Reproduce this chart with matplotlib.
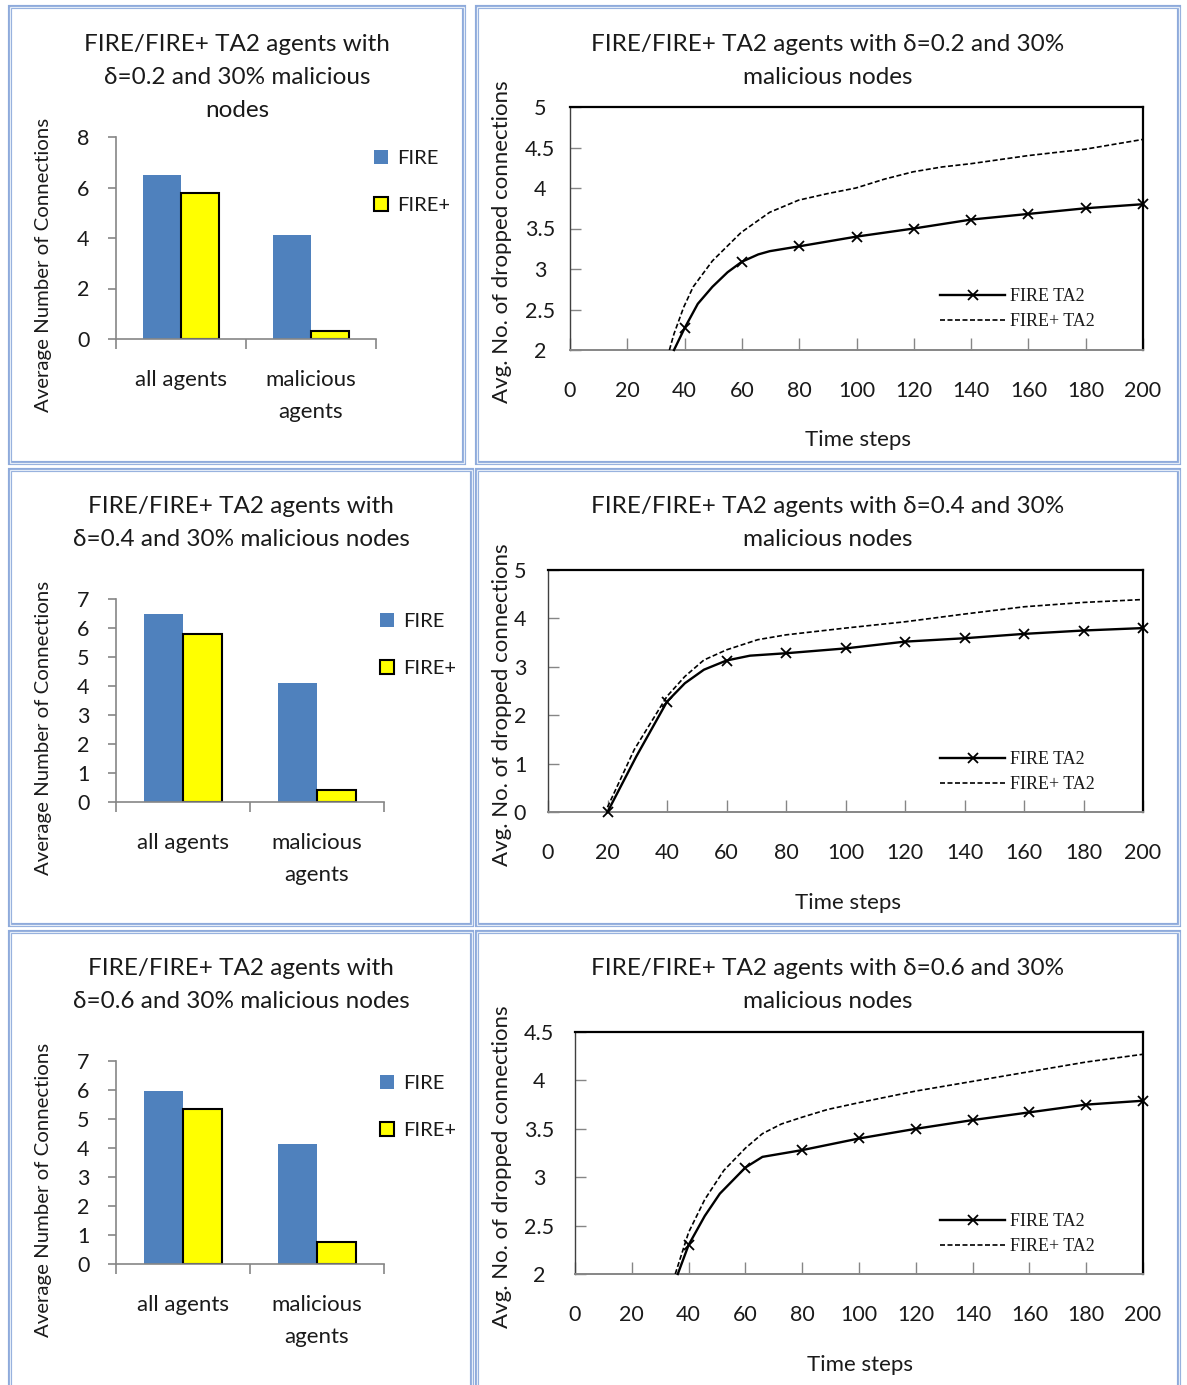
import matplotlib
matplotlib.use("Agg")
import matplotlib.pyplot as plt
from matplotlib.patches import Rectangle
from matplotlib.lines import Line2D
from matplotlib.ticker import FuncFormatter

W, H = 1187, 1385
FONT = ['Lato', 'DejaVu Sans']
plt.rcParams['font.family'] = FONT

# ---------------- data ----------------
categories = ["all agents", "malicious\nagents"]
bar_titles = [
    "FIRE/FIRE+ TA2 agents with\nδ=0.2 and 30% malicious\nnodes",
    "FIRE/FIRE+ TA2 agents with\nδ=0.4 and 30% malicious nodes",
    "FIRE/FIRE+ TA2 agents with\nδ=0.6 and 30% malicious nodes",
]
fire_d02 = [6.5, 4.1]
fireplus_d02 = [5.8, 0.3]
fire_d04 = [6.5, 4.1]
fireplus_d04 = [5.8, 0.4]
fire_d06 = [5.95, 4.15]
fireplus_d06 = [5.35, 0.75]
bar_ymax = [8, 7, 7]
bar_ystep = [2, 1, 1]

line_titles = [
    "FIRE/FIRE+ TA2 agents with δ=0.2 and 30%\nmalicious nodes",
    "FIRE/FIRE+ TA2 agents with δ=0.4 and 30%\nmalicious nodes",
    "FIRE/FIRE+ TA2 agents with δ=0.6 and 30%\nmalicious nodes",
]
marker_steps = [20, 40, 60, 80, 100, 120, 140, 160, 180, 200]

# delta = 0.2
fire_ta2_x_d02 = [36.3, 40, 44.6, 49.7, 55, 60, 65.7, 69.7, 80, 100, 120, 140, 160, 180, 200]
fire_ta2_y_d02 = [2.0, 2.27, 2.57, 2.78, 2.96, 3.09, 3.18, 3.22, 3.28, 3.40, 3.50, 3.61, 3.68, 3.75, 3.80]
fireplus_ta2_x_d02 = [34.7, 36.3, 39.7, 43, 49.7, 59.7, 69.7, 79.8, 89.8, 99.8, 109.8, 119.8, 129.9,
                      139.9, 149.9, 159.9, 169.9, 180, 190, 200]
fireplus_ta2_y_d02 = [2.0, 2.20, 2.53, 2.78, 3.10, 3.45, 3.70, 3.85, 3.93, 4.00, 4.11, 4.20, 4.26,
                      4.30, 4.35, 4.40, 4.44, 4.48, 4.54, 4.60]
# delta = 0.4
fire_ta2_x_d04 = [20, 29.7, 40, 46, 52.4, 60, 67.9, 80, 100, 120, 140, 160, 180, 200]
fire_ta2_y_d04 = [0.0, 1.15, 2.28, 2.66, 2.94, 3.13, 3.23, 3.28, 3.38, 3.52, 3.59, 3.68, 3.75, 3.80]
fireplus_ta2_x_d04 = [20, 29, 40, 46, 52.4, 60, 70.5, 80, 100, 120, 140, 160, 180, 200]
fireplus_ta2_y_d04 = [0.1, 1.29, 2.39, 2.80, 3.14, 3.35, 3.56, 3.66, 3.80, 3.93, 4.09, 4.24, 4.33, 4.39]
# delta = 0.6
fire_ta2_x_d06 = [36.2, 40, 45.7, 51, 60, 66, 80, 100, 120, 140, 160, 180, 200]
fire_ta2_y_d06 = [2.0, 2.30, 2.60, 2.83, 3.10, 3.21, 3.28, 3.40, 3.50, 3.59, 3.67, 3.75, 3.79]
fireplus_ta2_x_d06 = [35.3, 40, 45.7, 52.4, 60, 66, 72.7, 80, 89, 100, 120, 140, 160, 180, 200]
fireplus_ta2_y_d06 = [2.0, 2.43, 2.77, 3.07, 3.30, 3.45, 3.55, 3.62, 3.70, 3.77, 3.89, 3.99, 4.09, 4.19, 4.27]

line_ylims = [(2, 5, 0.5), (0, 5, 1), (2, 4.5, 0.5)]
x_ticks = [0, 20, 40, 60, 80, 100, 120, 140, 160, 180, 200]

BLUE = '#4f81bd'
YELLOW = '#ffff00'
GRAY = '#868686'
BORDER = '#8eaadb'
TXT = '#1a1a1a'
plt.rcParams['text.color'] = TXT
plt.rcParams['xtick.labelcolor'] = TXT
plt.rcParams['ytick.labelcolor'] = TXT

fig = plt.figure(figsize=(W / 100, H / 100), dpi=100)


def fx(x):
    return x / W


def fy(y):
    return 1 - y / H


def add_ax(l, t, r, b):
    return fig.add_axes([fx(l), fy(b), (r - l) / W, (b - t) / H])


def panel(l, t, r, b):
    for lw, c in ((3.0, BORDER), (0.9, '#e4ecf7')):
        fig.patches.append(Rectangle((fx(l), fy(b)), (r - l) / W, (b - t) / H,
                                     transform=fig.transFigure, fill=False,
                                     edgecolor=c, linewidth=lw))


# panels
panel(10, 7, 464, 463)
panel(477, 7, 1179, 463)
panel(10, 470, 472, 925)
panel(477, 470, 1179, 925)
panel(10, 932, 472, 1392)
panel(477, 932, 1179, 1392)

# ---------------- bar charts ----------------
bar_boxes = [(116, 137, 376, 339), (116, 599, 384, 802), (116, 1061, 384, 1264)]
bar_title_y = [43, 505, 967]
bar_title_x = [237, 241, 241]
bar_ylabel_y = [265, 728, 1190]
bar_leg = [(374, 150), (380, 613), (380, 1075)]
fires = [fire_d02, fire_d04, fire_d06]
fireps = [fireplus_d02, fireplus_d04, fireplus_d06]

for i in range(3):
    l, t, r, b = bar_boxes[i]
    ax = add_ax(l, t, r, b)
    w = 0.29
    xs = [0, 1]
    ax.bar([x - w / 2 for x in xs], fires[i], width=w, color=BLUE, label='FIRE', zorder=2)
    ax.bar([x + w / 2 for x in xs], fireps[i], width=w, color=YELLOW, edgecolor='black',
           linewidth=1.5, label='FIRE+', zorder=2)
    ax.set_xlim(-0.5, 1.5)
    ax.set_ylim(0, bar_ymax[i])
    ax.set_yticks(range(0, bar_ymax[i] + 1, bar_ystep[i]))
    ax.set_xticks([-0.5, 0.5, 1.5])
    ax.set_xticklabels([])
    ax.set_xticks(xs, categories, minor=True)
    ax.tick_params(axis='x', which='minor', length=0, pad=22, labelsize=16)
    for lab in ax.get_xticklabels(minor=True):
        lab.set_linespacing(1.75)
        lab.set_verticalalignment('top')
    ax.tick_params(axis='x', which='major', direction='out', length=7, color=GRAY, width=1.2)
    ax.tick_params(axis='y', direction='out', length=6, color=GRAY, width=1.2, pad=13,
                   labelsize=15.5)
    for s in ('top', 'right'):
        ax.spines[s].set_visible(False)
    for s in ('left', 'bottom'):
        ax.spines[s].set_color(GRAY)
        ax.spines[s].set_linewidth(1.2)
    ax.set_facecolor('none')
    lx, ly = bar_leg[i]
    ax.legend(loc='upper left', bbox_to_anchor=(fx(lx), fy(ly)), bbox_transform=fig.transFigure,
              frameon=False, fontsize=14.5, handlelength=0.7, handleheight=0.7,
              handletextpad=0.45, labelspacing=1.5, borderaxespad=0, borderpad=0)
    fig.text(fx(bar_title_x[i]), fy(bar_title_y[i] - 9), bar_titles[i], ha='center', va='top',
             fontsize=17.5, linespacing=1.72)
    fig.text(fx(44), fy(bar_ylabel_y[i]), "Average Number of Connections", rotation=90,
             ha='center', va='center', fontsize=14.7)

# ---------------- line charts ----------------
line_boxes = [(570, 107, 1143, 350), (548, 570, 1143, 812), (575, 1032, 1143, 1274)]
line_title_y = [43, 505, 967]
line_ylabel_y = [242, 705, 1167]
line_ylab_pad = [30, 28, 36]
line_xlabel_y = [440, 903, 1365]
line_xlabel_x = [858, 848, 860]
line_leg = [(940, 288), (940, 751), (940, 1213)]
fire_xs = [fire_ta2_x_d02, fire_ta2_x_d04, fire_ta2_x_d06]
fire_ys = [fire_ta2_y_d02, fire_ta2_y_d04, fire_ta2_y_d06]
fp_xs = [fireplus_ta2_x_d02, fireplus_ta2_x_d04, fireplus_ta2_x_d06]
fp_ys = [fireplus_ta2_y_d02, fireplus_ta2_y_d04, fireplus_ta2_y_d06]

for i in range(3):
    l, t, r, b = line_boxes[i]
    ax = add_ax(l, t, r, b)
    ymin, ymax, ystep = line_ylims[i]
    mk = [j for j, x in enumerate(fire_xs[i]) if x in marker_steps]
    ax.plot(fire_xs[i], fire_ys[i], color='black', lw=1.7, marker='x', markersize=6.5,
            markeredgewidth=1.3, markevery=mk, clip_on=False, zorder=3)
    ax.plot(fp_xs[i], fp_ys[i], color='black', lw=1.2, ls=(0, (3, 1.5)), zorder=3)
    ax.set_xlim(0, 200)
    ax.set_ylim(ymin, ymax)
    ax.set_xticks(x_ticks)
    yt = []
    v = ymin
    while v <= ymax + 1e-9:
        yt.append(round(v, 2))
        v += ystep
    ax.set_yticks(yt)
    ax.yaxis.set_major_formatter(FuncFormatter(lambda v, p: ('%g' % v)))
    ax.tick_params(axis='x', direction='in', length=9, color=GRAY, width=1.0, pad=31 / 1.389,
                   labelsize=15.5)
    ax.tick_params(axis='y', direction='in', length=8, color=GRAY, width=1.0,
                   pad=line_ylab_pad[i] / 1.389, labelsize=15.5)
    for lab in ax.get_yticklabels():
        lab.set_horizontalalignment('center')
    ax.spines['top'].set_color('black')
    ax.spines['top'].set_linewidth(1.6)
    ax.spines['right'].set_color('black')
    ax.spines['right'].set_linewidth(1.6)
    ax.spines['left'].set_color('#404040')
    ax.spines['left'].set_linewidth(1.0)
    ax.spines['bottom'].set_color(GRAY)
    ax.spines['bottom'].set_linewidth(1.4)
    ax.set_facecolor('none')
    handles = [Line2D([], [], color='black', lw=1.7, marker='x', markersize=6.5, markeredgewidth=1.3),
               Line2D([], [], color='black', lw=1.2, ls=(0, (3, 1.5)))]
    lx, ly = line_leg[i]
    ax.legend(handles, ['FIRE TA2', 'FIRE+ TA2'], loc='upper left', bbox_to_anchor=(fx(lx), fy(ly)),
              bbox_transform=fig.transFigure, frameon=False,
              prop={'family': ['Liberation Serif', 'DejaVu Serif'], 'size': 13},
              handlelength=3.6, handletextpad=0.3, labelspacing=0.45, borderaxespad=0, borderpad=0)
    fig.text(fx(828), fy(line_title_y[i] - 9), line_titles[i], ha='center', va='top',
             fontsize=17.5, linespacing=1.72)
    fig.text(fx(502), fy(line_ylabel_y[i]), "Avg. No. of dropped connections", rotation=90,
             ha='center', va='center', fontsize=16)
    fig.text(fx(line_xlabel_x[i]), fy(line_xlabel_y[i]), "Time steps", ha='center', va='center',
             fontsize=16)

fig.savefig('out.png', dpi=100, facecolor='white')
